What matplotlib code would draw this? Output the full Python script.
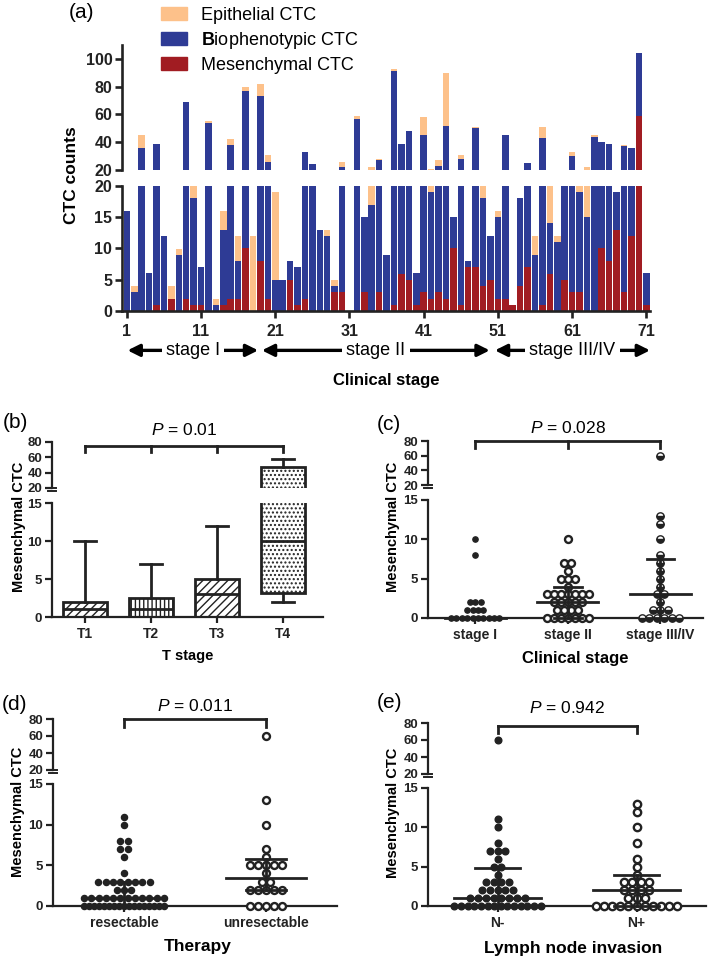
import numpy as np
import matplotlib
matplotlib.use("Agg")
import matplotlib.pyplot as plt
from matplotlib.patches import Patch
from matplotlib.lines import Line2D

plt.rcParams.update({
    "font.family": ["Liberation Sans", "DejaVu Sans"],
    "font.weight": "bold",
    "mathtext.fontset": "custom",
    "mathtext.rm": "Liberation Sans:normal",
    "mathtext.it": "Liberation Sans:italic:normal",
    "mathtext.bf": "Liberation Sans:bold",
    "hatch.linewidth": 1.0,
})

# ---------------- data ----------------
# (a) CTC counts per patient (1..71)
patient = np.arange(1, 72)
mes = np.array([0, 0, 0, 0, 1, 0, 2, 0, 2, 1, 1, 0, 0, 1, 2, 2, 10, 0, 8, 2,
                0, 0, 5, 1, 2, 0, 0, 0, 3, 3, 0, 0, 3, 0, 3, 0, 1, 6, 5, 1,
                3, 2, 3, 2, 10, 1, 7, 7, 4, 5, 2, 2, 1, 4, 7, 0, 1, 6, 0, 5,
                3, 3, 0, 0, 10, 8, 13, 3, 12, 59, 1])
bio = np.array([16, 3, 36, 6, 38, 12, 0, 9, 67, 17, 6, 54, 1, 12, 36, 6, 67, 0, 65, 24,
                5, 5, 3, 6, 31, 24, 13, 12, 1, 19, 0, 57, 12, 17, 24, 9, 90, 33, 43, 5,
                42, 17, 20, 50, 5, 27, 1, 43, 14, 7, 13, 43, 0, 14, 18, 9, 42, 8, 11, 15,
                27, 16, 15, 44, 30, 31, 6, 34, 24, 45, 5])
epi = np.array([0, 1, 9, 0, 0, 0, 2, 1, 0, 2, 0, 1, 1, 3, 4, 4, 3, 12, 9, 5,
                14, 0, 0, 0, 0, 0, 0, 1, 1, 4, 0, 2, 0, 5, 1, 0, 2, 0, 0, 0,
                13, 2, 4, 38, 0, 3, 0, 1, 2, 0, 1, 0, 0, 0, 0, 3, 8, 6, 1, 0,
                3, 1, 7, 1, 0, 0, 0, 1, 0, 0, 0])
a_xticks = [1, 11, 21, 31, 41, 51, 61, 71]
stage_names = ["stage I", "stage II", "stage III/IV"]
stage_spans = [(1.1, 18.7), (19.2, 49.9), (50.6, 71.5)]

# (b) T stage box plots
t_labels = ["T1", "T2", "T3", "T4"]
t_whislo = [0, 0, 0, 2]
t_q1 = [0, 0, 0, 3.2]
t_med = [1, 1, 3, 10]
t_q3 = [2, 2.5, 5, 48]
t_whishi = [10, 7, 12, 58]
t_hatch = ["////", "||||", "////", "...."]

# (c) clinical stage
c_labels = ["stage I", "stage II", "stage III/IV"]
c_stage1 = [10, 8, 2, 2, 2, 1, 1, 1, 1] + [0] * 10
c_stage2 = [10, 7, 7, 6, 5, 5, 5, 4] + [3] * 7 + [2] * 5 + [1] * 4 + [0] * 7
c_stage3 = [60, 13, 12, 10, 8, 7, 6, 5, 4, 3, 3, 2, 1, 1, 1] + [0] * 6
c_median = [0, 2, 3]
c_q1 = [0, 0, 0]
c_q3 = [0, 4, 7.5]

# (d) therapy
d_labels = ["resectable", "unresectable"]
d_resect = [11, 10, 8, 8, 7, 7, 6, 4] + [3] * 8 + [2] * 3 + [1] * 12 + [0] * 17
d_unresect = [60, 13, 10, 7, 6, 5, 5, 5, 5, 5, 4, 3, 3, 2, 2, 2, 2, 2, 0, 0, 0, 0, 0]
d_median = [1, 3.5]
d_q1 = [0, 2]
d_q3 = [3, 5.8]

# (e) lymph node invasion
e_labels = ["N-", "N+"]
e_neg = [60, 11, 10, 8, 7, 7, 7, 6, 5, 5, 4] + [3] * 4 + [2] * 5 + [1] * 8 + [0] * 14
e_pos = [13, 12, 10, 8, 6, 5, 4] + [3] * 4 + [2] * 4 + [1] * 3 + [0] * 11
e_median = [1, 2]
e_q1 = [0, 0]
e_q3 = [4.8, 4]

p_texts = ["0.01", "0.028", "0.011", "0.942"]

C_EPI = "#FDC18A"
C_BIO = "#2E3B95"
C_MES = "#A11C22"
LC = "#222222"

W, H = 709, 956
fig = plt.figure(figsize=(W / 100, H / 100), dpi=100)


def px(l, t, r, b):
    return [l / W, 1 - b / H, (r - l) / W, (b - t) / H]


def ftext(x, y, s, **kw):
    fig.text(x / W, 1 - y / H, s, ha="center", va="center", **kw)


def style(ax, lw=1.6, size=9.5):
    for s in ("top", "right"):
        ax.spines[s].set_visible(False)
    for s in ("left", "bottom"):
        ax.spines[s].set_linewidth(lw)
        ax.spines[s].set_color(LC)
    ax.tick_params(direction="out", length=5, width=lw, labelsize=size,
                   colors=LC, pad=2)


# ---------------- (a) ----------------
a_up = fig.add_axes(px(122, 45, 650, 170))
a_lo = fig.add_axes(px(122, 186, 650, 311))
for ax in (a_up, a_lo):
    ax.bar(patient, mes, 0.88, color=C_MES, linewidth=0)
    ax.bar(patient, bio, 0.88, bottom=mes, color=C_BIO, linewidth=0)
    ax.bar(patient, epi, 0.88, bottom=mes + bio, color=C_EPI, linewidth=0)
    ax.set_xlim(0.35, 71.5)
    style(ax, lw=1.9, size=11.5)
a_up.set_ylim(20, 110)
a_up.set_yticks([20, 40, 60, 80, 100])
a_up.spines["bottom"].set_visible(False)
a_up.set_xticks([])
a_lo.set_ylim(0, 20)
a_lo.set_yticks([0, 5, 10, 15, 20])
a_lo.set_xticks(a_xticks)
a_lo.tick_params(axis="x", pad=4)

for name, (s0, s1) in zip(stage_names, stage_spans):
    a_lo.annotate("", xy=(s0, -0.315), xytext=(s1, -0.315),
                  xycoords=("data", "axes fraction"),
                  textcoords=("data", "axes fraction"),
                  arrowprops=dict(arrowstyle="<|-|>", lw=2.4, color="black",
                                  mutation_scale=18, shrinkA=0, shrinkB=0),
                  annotation_clip=False)
    a_lo.text((s0 + s1) / 2, -0.315, name, transform=a_lo.get_xaxis_transform(),
              ha="center", va="center", fontsize=13, fontweight="normal",
              bbox=dict(facecolor="white", edgecolor="none", pad=3))

ftext(386, 381, "Clinical stage", fontsize=12)
ftext(72, 175, "CTC counts", fontsize=12.5, rotation=90)
ftext(81, 13, "(a)", fontsize=15, fontweight="normal")

fig.legend(handles=[Patch(color=C_EPI, label="Epithelial CTC"),
                    Patch(color=C_BIO, label=r"$\mathbf{B}$iophenotypic CTC"),
                    Patch(color=C_MES, label="Mesenchymal CTC")],
           loc="upper left", bbox_to_anchor=(161 / W, 1 - 7 / H), frameon=False,
           prop=dict(size=13, weight="normal"), handlelength=1.45,
           handleheight=0.75, labelspacing=0.32, handletextpad=0.75,
           borderaxespad=0, borderpad=0)


# ---------------- helpers for (b)-(e) ----------------
def broken(l, r, t_up, b_up, t_lo, b_lo, xlim):
    au = fig.add_axes(px(l, t_up, r, b_up))
    al = fig.add_axes(px(l, t_lo, r, b_lo))
    for ax in (au, al):
        ax.set_xlim(*xlim)
        style(ax)
    au.set_ylim(20, 80)
    au.set_yticks([20, 40, 60, 80])
    au.spines["bottom"].set_visible(False)
    au.set_xticks([])
    al.set_ylim(0, 15)
    al.set_yticks([0, 5, 10, 15])
    al.tick_params(axis="x", length=4, labelsize=10, pad=3)
    for dy in (0, 3):
        fig.add_artist(Line2D([(l - 4) / W, (l + 4) / W],
                              [1 - (b_up + dy) / H] * 2, color=LC, lw=1.4))
    return au, al


def bracket(ax, xs, y_top, y_drop, y_text, ptxt):
    ax.plot([xs[0], xs[-1]], [y_top, y_top], color=LC, lw=2, clip_on=False,
            solid_capstyle="projecting")
    for xv in xs:
        ax.plot([xv, xv], [y_top, y_drop], color=LC, lw=2, clip_on=False)
    ax.text((xs[0] + xs[-1]) / 2, y_text, r"$P$ = " + ptxt, ha="center",
            va="center", fontsize=12.5, fontweight="normal", clip_on=False)


def swarm(vals, pos, step, maxw):
    v = np.asarray(vals, float)
    xs = np.empty_like(v)
    for u in np.unique(v):
        idx = np.where(v == u)[0]
        n = len(idx)
        st = step if n < 2 else min(step, maxw / (n - 1))
        xs[idx] = pos + (np.arange(n) - (n - 1) / 2) * st
    return xs


def dots(au, al, vals, pos, step, maxw, **mk):
    v = np.asarray(vals, float)
    xs = swarm(v, pos, step, maxw)
    lo, hi = v <= 15, v >= 20
    al.plot(xs[lo], v[lo], ls="none", marker="o", clip_on=False, zorder=3, **mk)
    au.plot(xs[hi], v[hi], ls="none", marker="o", clip_on=False, zorder=3, **mk)


def summary(al, pos, med, q1, q3, hw, cw):
    kw = dict(color=LC, lw=2, zorder=4, clip_on=False)
    al.plot([pos - hw, pos + hw], [med, med], **kw)
    al.plot([pos, pos], [q1, q3], **kw)
    al.plot([pos - cw, pos + cw], [q1, q1], **kw)
    al.plot([pos - cw, pos + cw], [q3, q3], **kw)


filled = dict(color=LC, markeredgecolor=LC)
hollow = dict(markerfacecolor="white", markeredgecolor=LC, markeredgewidth=1.7)

# ---------------- (b) ----------------
b_up, b_lo = broken(52, 323, 442, 488, 503, 617, (0.5, 4.6))
stats = [dict(whislo=a, q1=b, med=c, q3=d, whishi=e, fliers=[])
         for a, b, c, d, e in zip(t_whislo, t_q1, t_med, t_q3, t_whishi)]
for ax in (b_up, b_lo):
    bp = ax.bxp(stats, positions=[1, 2, 3, 4], widths=0.67, patch_artist=True,
                showfliers=False, manage_ticks=False,
                boxprops=dict(facecolor="white", edgecolor=LC, linewidth=2),
                medianprops=dict(color=LC, linewidth=2),
                whiskerprops=dict(color=LC, linewidth=2),
                capprops=dict(color=LC, linewidth=2))
    for patch, h in zip(bp["boxes"], t_hatch):
        patch.set_hatch(h)
b_lo.set_xticks([1, 2, 3, 4], t_labels)
bracket(b_up, [1, 2, 3, 4], 74.8, 67, 95.5, p_texts[0])
ftext(188, 656, "T stage", fontsize=10.5)
ftext(19, 527, "Mesenchymal CTC", fontsize=10.5, rotation=90)
ftext(15, 422, "(b)", fontsize=15, fontweight="normal")

# ---------------- (c) ----------------
c_up, c_lo = broken(428, 703, 441, 485, 500, 618, (0.49, 3.46))
dots(c_up, c_lo, c_stage1, 1, 0.058, 0.55, markersize=3.8, **filled)
dots(c_up, c_lo, c_stage2, 2, 0.075, 0.65, markersize=5, **hollow)
dots(c_up, c_lo, c_stage3, 3, 0.08, 0.65, markersize=5.3, fillstyle="bottom",
     markerfacecolor=LC, markerfacecoloralt="white", markeredgecolor=LC,
     markeredgewidth=1.0)
for i in range(3):
    summary(c_lo, i + 1, c_median[i], c_q1[i], c_q3[i], 0.33, 0.15)
c_lo.set_xticks([1, 2, 3], c_labels)
bracket(c_up, [1, 2, 3], 80, 70.5, 98, p_texts[1])
ftext(575, 659, "Clinical stage", fontsize=12)
ftext(393, 527, "Mesenchymal CTC", fontsize=10.5, rotation=90)
ftext(389, 425, "(c)", fontsize=15, fontweight="normal")

# ---------------- (d) ----------------
d_up, d_lo = broken(53, 337, 719, 770, 784, 906, (0.5, 2.5))
dots(d_up, d_lo, d_resect, 1, 0.052, 0.56, markersize=4.4, **filled)
dots(d_up, d_lo, d_unresect, 2, 0.058, 0.56, markersize=5, **hollow)
for i in range(2):
    summary(d_lo, i + 1, d_median[i], d_q1[i], d_q3[i], 0.28, 0.14)
d_lo.set_xticks([1, 2], d_labels)
bracket(d_up, [1, 2], 80, 70.6, 95.5, p_texts[2])
ftext(198, 947, "Therapy", fontsize=12.5)
ftext(18, 812, "Mesenchymal CTC", fontsize=10.5, rotation=90)
ftext(15, 704, "(d)", fontsize=15, fontweight="normal")

# ---------------- (e) ----------------
e_up, e_lo = broken(428, 706, 723, 774, 788, 906, (0.5, 2.5))
dots(e_up, e_lo, e_neg, 1, 0.056, 0.62, markersize=4.8, **filled)
dots(e_up, e_lo, e_pos, 2, 0.058, 0.62, markersize=5.3, **hollow)
for i in range(2):
    summary(e_lo, i + 1, e_median[i], e_q1[i], e_q3[i], 0.31, 0.16)
e_lo.set_xticks([1, 2], e_labels)
bracket(e_up, [1, 2], 76.5, 68, 98, p_texts[3])
ftext(573, 948, "Lymph node invasion", fontsize=12.5)
ftext(393, 813, "Mesenchymal CTC", fontsize=10.5, rotation=90)
ftext(389, 703, "(e)", fontsize=15, fontweight="normal")

fig.savefig("out.png", dpi=100)
